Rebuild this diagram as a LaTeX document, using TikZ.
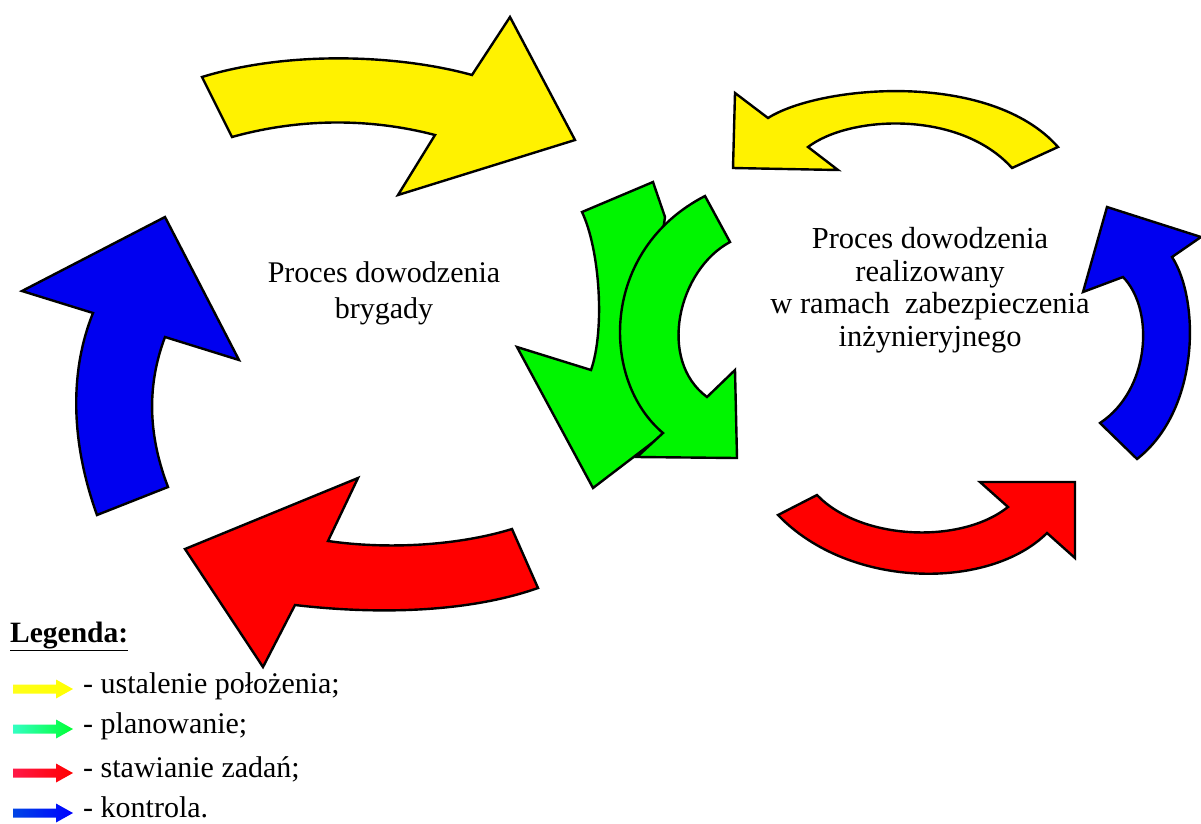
\documentclass[tikz,border=0pt]{standalone}
\usepackage{fontspec}
\setmainfont{Liberation Serif}
\begin{document}
\begin{tikzpicture}[x=1pt,y=-1pt,
  blockarrow/.style={draw=black,line width=2.4pt,line join=miter},
  ylw/.style={blockarrow,fill=yellow},
  grn/.style={blockarrow,fill=green!96!black},
  rd/.style={blockarrow,fill=red},
  bl/.style={blockarrow,fill=blue!94!black},
  bigtext/.style={font=\fontsize{30}{36}\selectfont,align=center,inner sep=0pt},
  legtext/.style={font=\fontsize{30}{35}\selectfont,anchor=base west,inner sep=0pt},
  legarrow/.style={draw=none}
]
\useasboundingbox[fill=white] (0,0) rectangle (1201,823);

% --- left cycle ---
% yellow: top, pointing right
\path[ylw] (202,77) .. controls (290,50) and (400,55) .. (472,75)
  -- (510,17) -- (575,140) -- (398,195) -- (435,135)
  .. controls (370,118) and (300,118) .. (232,137) -- cycle;
% red: bottom, pointing left
\path[rd] (185,549) -- (358,478) -- (328,541)
  .. controls (390,550) and (460,545) .. (512,529)
  -- (538,588) .. controls (470,612) and (380,615) .. (295,605)
  -- (263,667) -- cycle;
% blue: left side, pointing up
\path[bl] (22,291) -- (165,217) -- (239,360) -- (165,337)
  .. controls (145,390) and (150,440) .. (168,487)
  -- (97,515) .. controls (70,440) and (70,370) .. (93,313) -- cycle;

% --- green planning arrows in the middle ---
\path[grn] (582,212) -- (653,182) -- (665,217) -- (650,320) -- (665,433)
  -- (593,488) -- (517,347) -- (591,370)
  .. controls (605,330) and (600,250) .. (582,212) -- cycle;
\path[grn] (705,196) -- (730,242)
  .. controls (678,270) and (657,360) .. (707,397)
  -- (735,370) -- (737,458) -- (637,457) -- (663,433)
  .. controls (600,380) and (600,250) .. (705,196) -- cycle;

% --- right cycle ---
% yellow: top, pointing left
\path[ylw] (735,93) -- (768,118)
  .. controls (820,85) and (990,70) .. (1058,147)
  -- (1012,168) .. controls (960,110) and (850,115) .. (808,147)
  -- (838,170) -- (733,168) -- cycle;
% red: bottom, pointing right
\path[rd] (817,495) .. controls (860,540) and (960,545) .. (1008,507)
  -- (980,482) -- (1075,482) -- (1075,558) -- (1047,533)
  .. controls (990,590) and (850,590) .. (778,515) -- cycle;
% blue: right side, pointing up
\path[bl] (1107,207) -- (1201,237) -- (1172,257)
  .. controls (1200,300) and (1200,410) .. (1137,459)
  -- (1100,423) .. controls (1150,390) and (1155,310) .. (1123,277)
  -- (1083,292) -- cycle;

% --- process labels ---
\node[bigtext] (brig) at (384,293) {Proces dowodzenia\\brygady};
\node[bigtext,font=\fontsize{30.5}{32.5}\selectfont] (inz) at (930,290)
  {Proces dowodzenia\\realizowany\\w ramach\ \ zabezpieczenia\\inżynieryjnego};

% --- legend ---
\node[legtext,font=\fontsize{29.5}{34}\bfseries] (leg) at (10,642) {\underline{Legenda:}};
\foreach \y/\c/\d/\t [count=\i] in
  {693/yellow!90!white/yellow/{- ustalenie położenia;},
   733/cyan!70!green!80!white/green!80!cyan/{- planowanie;},
   777/red!80!magenta!90!white/red/{- stawianie zadań;},
   817/blue!70!cyan!90!black/blue/{- kontrola.}}{
  \coordinate (la\i) at (13,\y-4);
  \path[legarrow,left color=\c,right color=\d]
    (la\i) ++(0,-4.5) -- ++(43,0) -- ++(0,-5) -- ++(17,9.5) -- ++(-17,9.5)
    -- ++(0,-5) -- ++(-43,0) -- cycle;
  \node[legtext] (lt\i) at (83,\y) {\t};
}
\end{tikzpicture}
\end{document}
